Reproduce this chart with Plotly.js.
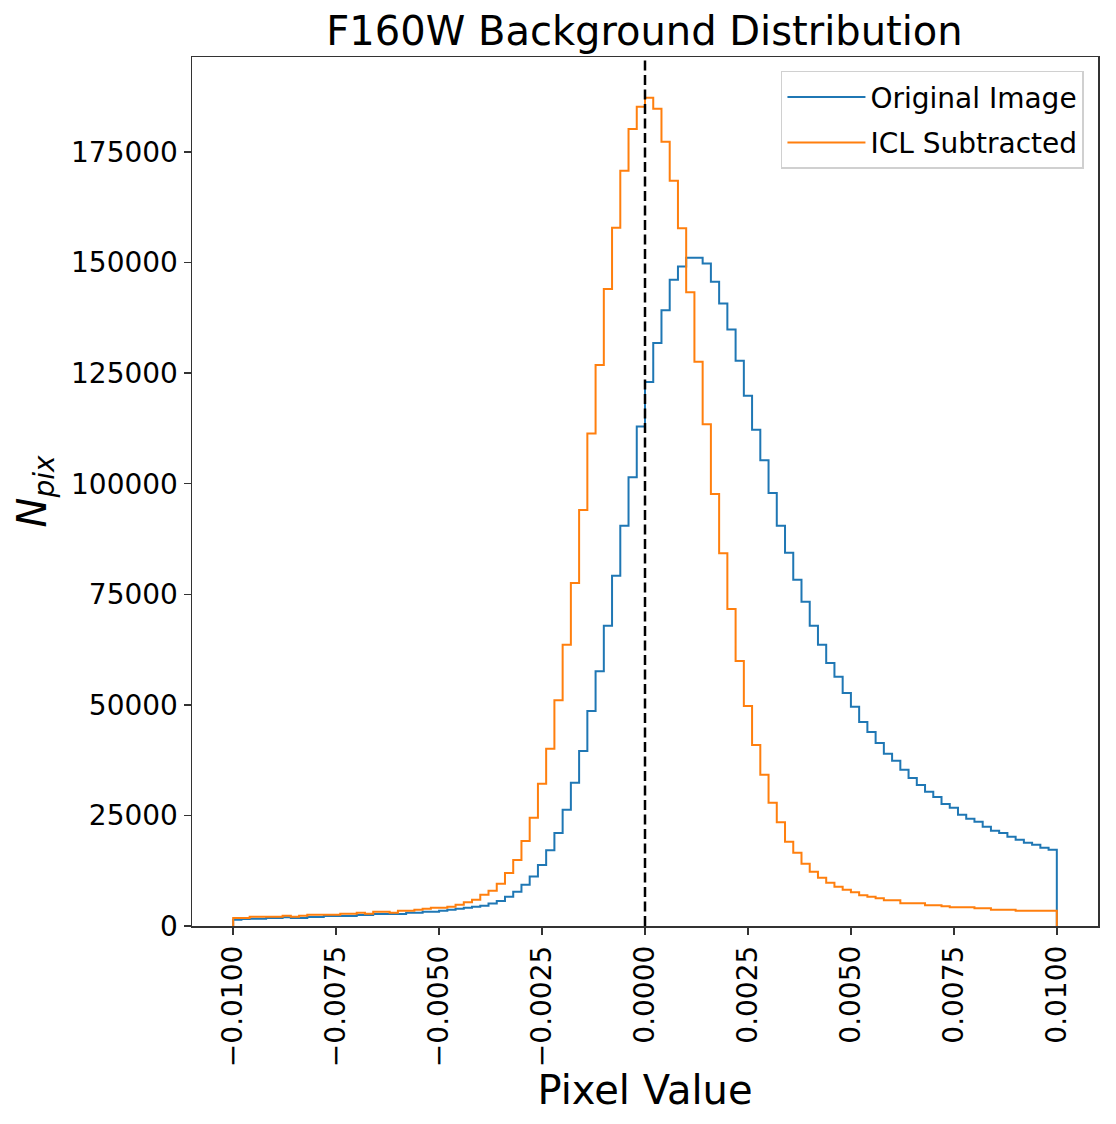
<!DOCTYPE html>
<html>
<head>
<meta charset="utf-8">
<script src="https://cdn.plot.ly/plotly-3.0.1.min.js"></script>
<style>
  body { margin: 0; background: #fff; }
  #plot { width: 1116px; height: 1124px; }
</style>
</head>
<body>
<div id="plot"></div>
<script>
// histogram: 100 bins between -0.01 and 0.01
const binMin = -0.01;
const binMax = 0.01;

const origCounts = [
  1430, 1580, 1650, 1650, 1800, 1800, 2000, 1800, 1800, 2030,
  2030, 2250, 2250, 2250, 2250, 2480, 2480, 2700, 2700, 2700,
  2700, 3000, 3000, 3230, 3230, 3460, 3690, 3910, 4140, 4360,
  4560, 5100, 5680, 6630, 7760, 9300, 11170, 13820, 17140, 21030,
  26270, 32400, 39590, 48630, 57610, 67870, 79180, 90490, 101470, 112960,
  123000, 131800, 139200, 146100, 149100, 151100, 151100, 149800, 145650, 140750,
  134870, 127800, 119910, 112220, 105290, 97900, 90520, 84410, 78270, 73330,
  67870, 63610, 59460, 56380, 52680, 49590, 46120, 43860, 41380, 38970,
  37380, 35350, 33460, 31880, 30380, 29170, 27580, 26760, 25170, 24270,
  23590, 22460, 21560, 21030, 20200, 19520, 18840, 18390, 17710, 17260
];

const iclCounts = [
  1800, 1800, 2100, 2100, 2100, 2100, 2330, 2100, 2330, 2560,
  2560, 2560, 2560, 2780, 2780, 3000, 2780, 3230, 3230, 3000,
  3460, 3460, 3690, 3910, 4140, 4140, 4360, 4820, 5350, 5950,
  7050, 7950, 9550, 11970, 14950, 19240, 24490, 32170, 40080, 51070,
  63580, 77570, 94040, 111330, 126840, 144030, 157890, 170780, 180200, 185250,
  187290, 184800, 177340, 168520, 157750, 143270, 127560, 113430, 97680, 84260,
  71670, 59920, 49740, 40920, 34220, 27890, 23440, 19030, 16580, 14090,
  12280, 10930, 9800, 8890, 8210, 7610, 6930, 6630, 6260, 5800,
  5800, 5130, 5130, 5130, 4670, 4670, 4450, 4220, 4220, 4220,
  3990, 3990, 3690, 3690, 3690, 3470, 3470, 3470, 3470, 3470
];

const seriesNames = ['Original Image', 'ICL Subtracted'];
const xTicks = [-0.01, -0.0075, -0.005, -0.0025, 0, 0.0025, 0.005, 0.0075, 0.01];
const yTicks = [0, 25000, 50000, 75000, 100000, 125000, 150000, 175000];

// outline of a step histogram (like matplotlib histtype='step')
function stepOutline(counts) {
  const n = counts.length;
  const w = (binMax - binMin) / n;
  const xs = [binMin];
  const ys = [0];
  for (let i = 0; i < n; i++) {
    xs.push(binMin + i * w);
    ys.push(counts[i]);
  }
  xs.push(binMax, binMax);
  ys.push(counts[n - 1], 0);
  return { xs, ys };
}

const fontFam = 'DejaVu Sans, sans-serif';
const o1 = stepOutline(origCounts);
const o2 = stepOutline(iclCounts);

const origTrace = {
  x: o1.xs, y: o1.ys,
  type: 'scatter', mode: 'lines',
  line: { shape: 'hv', color: '#1f77b4', width: 2 },
  name: seriesNames[0],
  legendgroup: 'a'
};

const iclTrace = {
  x: o2.xs, y: o2.ys,
  type: 'scatter', mode: 'lines',
  line: { shape: 'hv', color: '#ff7f0e', width: 2 },
  name: seriesNames[1],
  legendgroup: 'b'
};

const layout = {
  width: 1116,
  height: 1124,
  margin: { l: 192, r: 18, t: 57, b: 198 },
  paper_bgcolor: '#fff',
  plot_bgcolor: '#fff',
  font: { family: fontFam, color: '#000', size: 28 },
  title: {
    text: 'F160W Background Distribution',
    font: { size: 40 },
    x: 0.5775, xanchor: 'center',
    y: 0.972, yanchor: 'middle'
  },
  xaxis: {
    range: [-0.011, 0.011],
    tickvals: xTicks,
    tickformat: '.4f',
    tickangle: -90,
    ticks: 'outside', ticklen: 7, tickwidth: 1.5, tickcolor: '#333',
    showline: true, mirror: true, linecolor: '#333', linewidth: 1.5,
    showgrid: false, zeroline: false,
    title: { text: 'Pixel Value', font: { size: 40 }, standoff: 10 }
  },
  yaxis: {
    range: [0, 196480],
    tickvals: yTicks,
    tickformat: 'd',
    ticks: 'outside', ticklen: 7, tickwidth: 1.5, tickcolor: '#333',
    showline: true, mirror: true, linecolor: '#333', linewidth: 1.5,
    showgrid: false, zeroline: false,
    title: { text: '<i>N</i><sub><i>pix</i></sub>', font: { size: 40 }, standoff: 12 }
  },
  shapes: [{
    type: 'line', xref: 'x', yref: 'paper',
    x0: 0, x1: 0, y0: 0, y1: 1,
    line: { color: '#000', width: 2.5, dash: '10px,4.5px' }
  }],
  showlegend: true,
  legend: {
    x: 0.9845, xanchor: 'right',
    y: 0.984, yanchor: 'top',
    bgcolor: 'rgba(255,255,255,0.8)',
    bordercolor: '#d0d0d0', borderwidth: 1.5,
    font: { size: 28 },
    itemwidth: 78,
    tracegroupgap: 6
  }
};

Plotly.newPlot('plot', [origTrace, iclTrace], layout, { displayModeBar: false, staticPlot: true });
</script>
</body>
</html>
